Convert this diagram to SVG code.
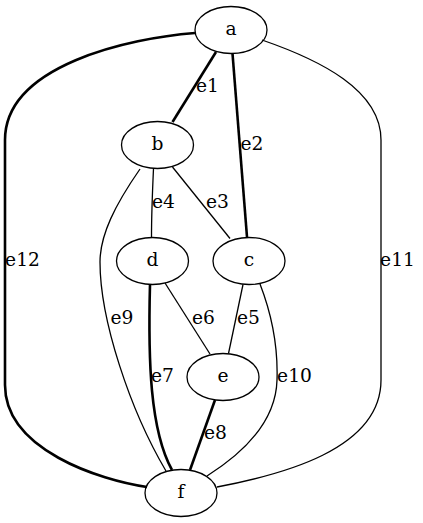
<svg xmlns="http://www.w3.org/2000/svg" width="423" height="523" viewBox="0 0 423 523">
<style>
.node ellipse{fill:none;stroke:#000;stroke-width:1.3}
text{font-family:"DejaVu Serif","Liberation Serif",serif;font-size:18.67px;fill:#000;text-anchor:middle}
.edges path{fill:none;stroke:#000;stroke-width:1.3}
.edges path.bold{stroke-width:2.6}
</style>
<rect width="423" height="523" fill="#fff"/>
<g class="edges" id="edges">
<path id="e1" class="bold" d="M216,52 L172.5,122"/>
<path id="e2" class="bold" d="M232.5,53.5 L247,237"/>
<path id="e3" d="M172.5,167 L230,238.5"/>
<path id="e4" d="M153.5,168.5 C152.5,190 151.5,215 151.5,237.5"/>
<path id="e5" d="M243,284.5 L228.5,353.5"/>
<path id="e6" d="M165,283 L210,354"/>
<path id="e7" class="bold" d="M150,284.5 C148,360 150,430 172,470"/>
<path id="e8" class="bold" d="M215,400 L190,470"/>
<path id="e9" d="M140,169 C115,205 100,235 100,262 C100,320 130,410 166,471"/>
<path id="e10" d="M260,284 C272,315 278,350 277,380 C276,420 245,452 207,476"/>
<path id="e11" d="M262,40 C320,60 381,90 381,140 L381,380 C381,450 280,475 217,487"/>
<path id="e12" class="bold" d="M195,33 C130,38 5,65 5,140 L5,385 C5,450 100,480 147,487"/>
<text x="207.5" y="92">e1</text>
<text x="252" y="150">e2</text>
<text x="217.5" y="208">e3</text>
<text x="163.5" y="208">e4</text>
<text x="248.5" y="324">e5</text>
<text x="203.5" y="324">e6</text>
<text x="162.5" y="382">e7</text>
<text x="215.5" y="439">e8</text>
<text x="122" y="324">e9</text>
<text x="294.5" y="382">e10</text>
<text x="397.5" y="266">e11</text>
<text x="22.5" y="266">e12</text>
</g>
<g class="node" id="a"><ellipse cx="231" cy="30" rx="36" ry="23.5"/><text x="231" y="35">a</text></g>
<g class="node" id="b"><ellipse cx="157.5" cy="145" rx="36" ry="23.5"/><text x="157.5" y="150">b</text></g>
<g class="node" id="c"><ellipse cx="249" cy="261" rx="36" ry="23.5"/><text x="249" y="266">c</text></g>
<g class="node" id="d"><ellipse cx="152.5" cy="261" rx="36" ry="23.5"/><text x="152.5" y="266">d</text></g>
<g class="node" id="e"><ellipse cx="223" cy="377" rx="36" ry="23.5"/><text x="223" y="382">e</text></g>
<g class="node" id="f"><ellipse cx="181" cy="493" rx="36" ry="23.5"/><text x="181" y="498">f</text></g>
</svg>
